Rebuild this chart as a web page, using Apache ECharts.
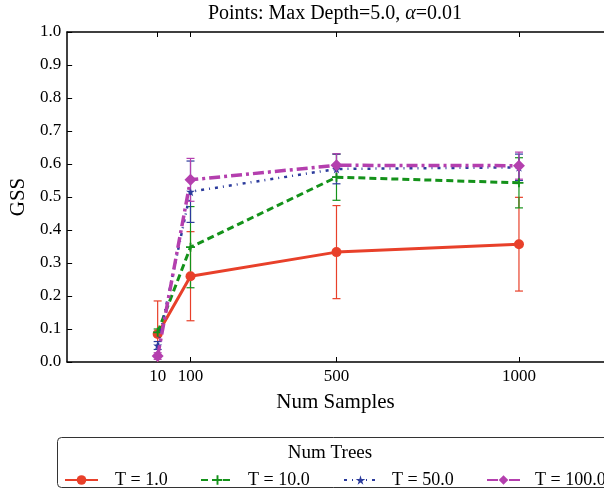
<!DOCTYPE html>
<html>
<head>
<meta charset="utf-8">
<script src="https://cdn.jsdelivr.net/npm/echarts@6/dist/echarts.min.js"></script>
<style>html,body{margin:0;padding:0;background:#fff}#c{width:604px;height:491px}</style>
</head>
<body>
<div id="c"></div>
<script>
// ---- data ----
var samples = [10, 100, 500, 1000];
var xTicks = [10, 100, 500, 1000];
var seriesNames = ['T = 1.0', 'T = 10.0', 'T = 50.0', 'T = 100.0'];
var gssT1 = [0.085, 0.26, 0.333, 0.357];
var errT1 = [0.10, 0.135, 0.141, 0.142];
var gssT10 = [0.09, 0.348, 0.56, 0.543];
var errT10 = [0.01, 0.123, 0.07, 0.076];
var gssT50 = [0.05, 0.516, 0.585, 0.59];
var errT50 = [0.012, 0.093, 0.045, 0.04];
var gssT100 = [0.018, 0.552, 0.596, 0.595];
var errT100 = [0.01, 0.065, 0.035, 0.041];

var FONT = 'Liberation Serif';
var colors = ['#e8402a', '#14921a', '#2b3b9c', '#b43fae'];
var allVals = [gssT1, gssT10, gssT50, gssT100];
var allErrs = [errT1, errT10, errT50, errT100];

var starPath = 'path://M50,0L61,35H98L68,57L79,91L50,70L21,91L32,57L2,35H39Z';
var plusPath = 'path://M4,0H6V4H10V6H6V10H4V6H0V4H4Z';
var symbols = ['circle', plusPath, starPath, 'diamond'];
var symbolSizes = [10, 9, 9, 12];
var lineStyles = [
  {width: 3, type: 'solid'},
  {width: 3, type: [7, 4]},
  {width: 2.5, type: [3, 5, 1, 5]},
  {width: 3.5, type: [11, 4, 3, 4]}
];

function errRender(color) {
  return function (params, api) {
    var x = api.value(0), y = api.value(1), e = api.value(2);
    var p1 = api.coord([x, y + e]);
    var p2 = api.coord([x, y - e]);
    var w = 4;
    var st = {stroke: color, lineWidth: 1.2};
    return {type: 'group', children: [
      {type: 'line', shape: {x1: p1[0], y1: p1[1], x2: p2[0], y2: p2[1]}, style: st},
      {type: 'line', shape: {x1: p1[0] - w, y1: p1[1], x2: p1[0] + w, y2: p1[1]}, style: st},
      {type: 'line', shape: {x1: p2[0] - w, y1: p2[1], x2: p2[0] + w, y2: p2[1]}, style: st}
    ]};
  };
}

var series = [];
for (var i = 0; i < 4; i++) {
  series.push({
    name: 'err' + i, type: 'custom', clip: true,
    renderItem: errRender(colors[i]),
    encode: {x: 0, y: 1},
    data: samples.map(function (s, k) { return [s, allVals[i][k], allErrs[i][k]]; }),
    z: 2
  });
}
for (var j = 0; j < 4; j++) {
  series.push({
    name: seriesNames[j], type: 'line',
    data: samples.map(function (s, k) { return [s, allVals[j][k]]; }),
    symbol: symbols[j], symbolSize: symbolSizes[j],
    showAllSymbol: true,
    itemStyle: {color: colors[j]},
    lineStyle: {color: colors[j], width: lineStyles[j].width, type: lineStyles[j].type},
    z: 3 + j
  });
}

var legendLefts = [59, 195, 338, 481];
var legendPad = [12, 9, 10, 10];
var legends = seriesNames.map(function (n, i) {
  return {
    data: [n], left: legendLefts[i], top: 466, itemWidth: 33, itemHeight: 12,
    textStyle: {fontFamily: FONT, fontSize: 18, color: '#000', padding: [0, 0, 0, legendPad[i]]},
    selectedMode: false
  };
});

var chart = echarts.init(document.getElementById('c'));
chart.setOption({
  animation: false,
  backgroundColor: '#fff',
  grid: {left: 66, right: 0, top: 32, bottom: 129},
  xAxis: [{
    type: 'value', min: -238, max: 1233, position: 'bottom',
    name: 'Num Samples', nameLocation: 'middle', nameGap: 30,
    nameTextStyle: {fontFamily: FONT, fontSize: 21, color: '#000'},
    axisLine: {show: true, onZero: false, lineStyle: {color: '#000', width: 1.5}},
    axisTick: {show: true, inside: true, length: 5, customValues: xTicks, lineStyle: {color: '#000'}},
    axisLabel: {customValues: xTicks, fontFamily: FONT, fontSize: 17, color: '#000', margin: 6,
      formatter: function (v) { return String(v); }},
    splitLine: {show: false}
  }, {
    type: 'value', min: -238, max: 1233, position: 'top',
    axisLine: {show: true, onZero: false, lineStyle: {color: '#000', width: 1.5}},
    axisTick: {show: true, inside: true, length: 5, customValues: xTicks, lineStyle: {color: '#000'}},
    axisLabel: {show: false},
    splitLine: {show: false}
  }],
  yAxis: {
    type: 'value', min: 0, max: 1, interval: 0.1,
    name: 'GSS', nameLocation: 'middle', nameGap: 37,
    nameTextStyle: {fontFamily: FONT, fontSize: 21, color: '#000'},
    axisLine: {show: true, onZero: false, lineStyle: {color: '#000', width: 1.5}},
    axisTick: {show: true, inside: true, length: 5, lineStyle: {color: '#000'}},
    axisLabel: {fontFamily: FONT, fontSize: 17, color: '#000', margin: 6,
      formatter: function (v) { return v.toFixed(1); }},
    splitLine: {show: false}
  },
  legend: legends,
  graphic: [
    {type: 'text', x: 335, y: 14, style: {
      text: '{n|Points: Max Depth=5.0, }{i|α}{n|=0.01}',
      align: 'center', verticalAlign: 'middle',
      rich: {
        n: {fontFamily: FONT, fontSize: 20, fill: '#000'},
        i: {fontFamily: FONT, fontSize: 20, fontStyle: 'italic', fill: '#000'}
      }
    }},
    {type: 'rect', shape: {x: 57.5, y: 437.5, width: 570, height: 50, r: 4},
      style: {fill: 'none', stroke: '#333', lineWidth: 1}},
    {type: 'text', x: 330, y: 453, style: {text: 'Num Trees', align: 'center', verticalAlign: 'middle',
      fontFamily: FONT, fontSize: 19, fill: '#000'}}
  ],
  series: series
});
</script>
</body>
</html>
